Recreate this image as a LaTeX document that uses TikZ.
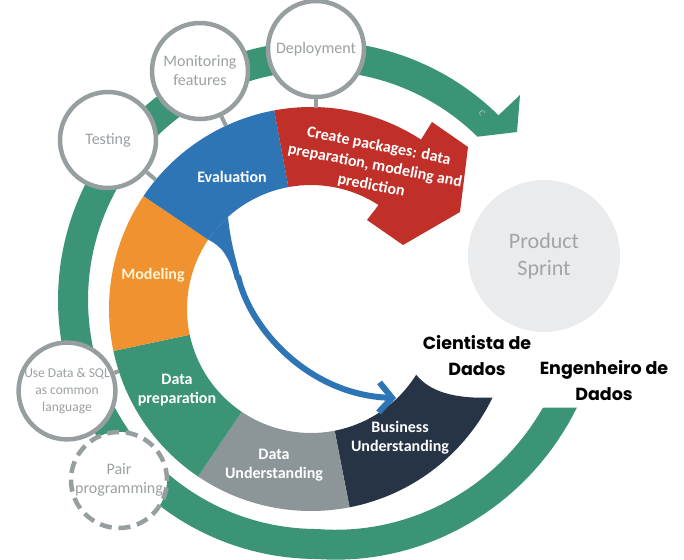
\documentclass[tikz,border=0pt]{standalone}
\usepackage{fontspec}
\setmainfont{Carlito}
\newfontfamily\popfont{Poppins}
\usetikzlibrary{arrows.meta}

\definecolor{ringgreen}{RGB}{58,148,117}
\definecolor{evalblue}{RGB}{46,117,182}
\definecolor{modorange}{RGB}{240,146,48}
\definecolor{packred}{RGB}{192,48,40}
\definecolor{undgray}{RGB}{140,150,152}
\definecolor{bizNavy}{RGB}{38,52,70}
\definecolor{bubblegray}{RGB}{150,158,160}
\definecolor{labelgray}{RGB}{155,160,162}
\definecolor{sprintfill}{RGB}{233,235,236}
\definecolor{sprinttext}{RGB}{160,166,168}
\definecolor{modtext}{RGB}{255,243,210}

\tikzset{
  bubble/.style={circle, draw=bubblegray, line width=4.5pt, fill=white,
    minimum size=96pt, inner sep=0pt, align=center, text=labelgray,
    font=\fontsize{16}{19}\selectfont},
  stem/.style={draw=bubblegray, line width=4pt},
  seglabel/.style={text=white, align=center,
    font=\bfseries\fontsize{16}{19}\selectfont},
  role/.style={text=black, align=center,
    font=\popfont\bfseries\fontsize{17.5}{26}\selectfont},
}

\begin{document}
\begin{tikzpicture}[x=1pt, y=-1pt]
  % canvas
  \fill[white] (0,0) rectangle (684,559);
  \useasboundingbox (0,0) rectangle (684,559);

  % outer product-cycle arrow (widens slightly toward its lower-right end)
  \fill[ringgreen]
    plot[domain=22.5:314.5, samples=150, variable=\t]
      ({317+(259+0.33*max(0,90-\t))*cos(\t)}, {300+(259+0.33*max(0,90-\t))*sin(\t)})
    -- (520,95) -- (517,132) -- (477.5,136.7)
    -- plot[domain=314.5:25.5, samples=150, variable=\t]
      ({317+(229+0.33*max(0,90-\t))*cos(\t)}, {300+(229+0.33*max(0,90-\t))*sin(\t)})
    -- cycle;
  \node[text={rgb,255:red,175;green,205;blue,195}, font=\fontsize{9}{9}\selectfont,
        rotate=-60] (cmark) at (482,113) {C};

  % inner CRISP-DM ring segments
  \begin{scope}[shift={(311,309)}]
    % Business Understanding
    \fill[bizNavy] (79:124) arc[start angle=79, end angle=32, radius=124]
      .. controls (119,83) and (144,90) .. (26:202)
      arc[start angle=26, end angle=79, radius=202] -- cycle;
    % Data Understanding
    \fill[undgray] (79:202) arc[start angle=79, end angle=124, radius=202]
      -- (124:124) arc[start angle=124, end angle=79, radius=124] -- cycle;
    % Data preparation
    \fill[ringgreen] (124:202) arc[start angle=124, end angle=168, radius=202]
      -- (168:124) arc[start angle=168, end angle=124, radius=124] -- cycle;
    % Modeling
    \fill[modorange] (168:202) arc[start angle=168, end angle=214, radius=202]
      -- (214:124) arc[start angle=214, end angle=168, radius=124] -- cycle;
    % Evaluation
    \fill[evalblue] (214:202) arc[start angle=214, end angle=259.5, radius=202]
      -- (259.5:124) arc[start angle=259.5, end angle=214, radius=124] -- cycle;
    % Evaluation feedback tail
    \fill[evalblue] (214:124) .. controls (-89,-63) and (-81,-51) .. (-76,-29)
      -- (-70,-29) .. controls (-75,-49) and (-81,-69) .. (228:124)
      arc[start angle=228, end angle=214, radius=124] -- cycle;
    % Create packages arrow
    \fill[packred] (259.5:202) arc[start angle=259.5, end angle=303, radius=202]
      -- (121,-187) -- (157,-162) -- (149,-97) -- (92,-64) -- (56,-89)
      -- (303:124) arc[start angle=303, end angle=259.5, radius=124] -- cycle;
  \end{scope}

  % feedback arrow from Evaluation back to Business Understanding
  \coordinate (evaltail) at (238,276);
  \coordinate (bizin) at (396,398);
  \draw[evalblue, line width=6pt, -{Straight Barb[length=13pt, width=30pt]}]
    (evaltail) .. controls (250,330) and (310,395) .. (bizin);

  % practice bubbles and their stems
  \coordinate (deployring) at (316,108);
  \coordinate (monitorring) at (225.9,125.8);
  \coordinate (testring) at (155.7,179.7);
  \coordinate (usering) at (118.8,371.2);
  \node[bubble] (deploy) at (316,49) {Deployment};
  \node[bubble] (monitor) at (200,71) {Monitoring\\features};
  \node[bubble] (testing) at (108,140) {Testing};
  \node[bubble, font=\fontsize{13.5}{17}\selectfont] (usedata) at (67,391)
    {Use Data \& SQL\\as common\\language};
  \node[bubble, dash pattern=on 12pt off 6.8pt] (pair) at (119,480)
    {Pair\\programming};
  \draw[stem] (deploy) -- (deployring);
  \draw[stem] (monitor) -- (monitorring);
  \draw[stem] (testing) -- (testring);
  \draw[stem] (usedata) -- (usering);

  % segment labels
  \node[seglabel] (eval) at (232,177) {Evaluation};
  \node[seglabel, text=modtext] (model) at (153,275) {Modeling};
  \node[seglabel] (prep) at (177,390) {Data\\preparation};
  \node[seglabel] (dund) at (274,465) {Data\\Understanding};
  \node[seglabel] (bund) at (400,438) {Business\\Understanding};
  \node[seglabel, rotate=-11, font=\bfseries\fontsize{16}{20}\selectfont]
    (pack) at (375,166) {Create packages: data\\preparation, modeling and\\prediction};

  % product sprint
  \node[circle, fill=sprintfill, minimum size=152pt, inner sep=0pt, align=center,
        text=sprinttext, font=\fontsize{22}{27}\selectfont] (sprint) at (544,256)
    {Product\\Sprint};

  % roles
  \node[role] (cient) at (477,356) {Cientista de\\Dados};
  \node[role] (eng) at (604,381) {Engenheiro de\\Dados};
\end{tikzpicture}
\end{document}
